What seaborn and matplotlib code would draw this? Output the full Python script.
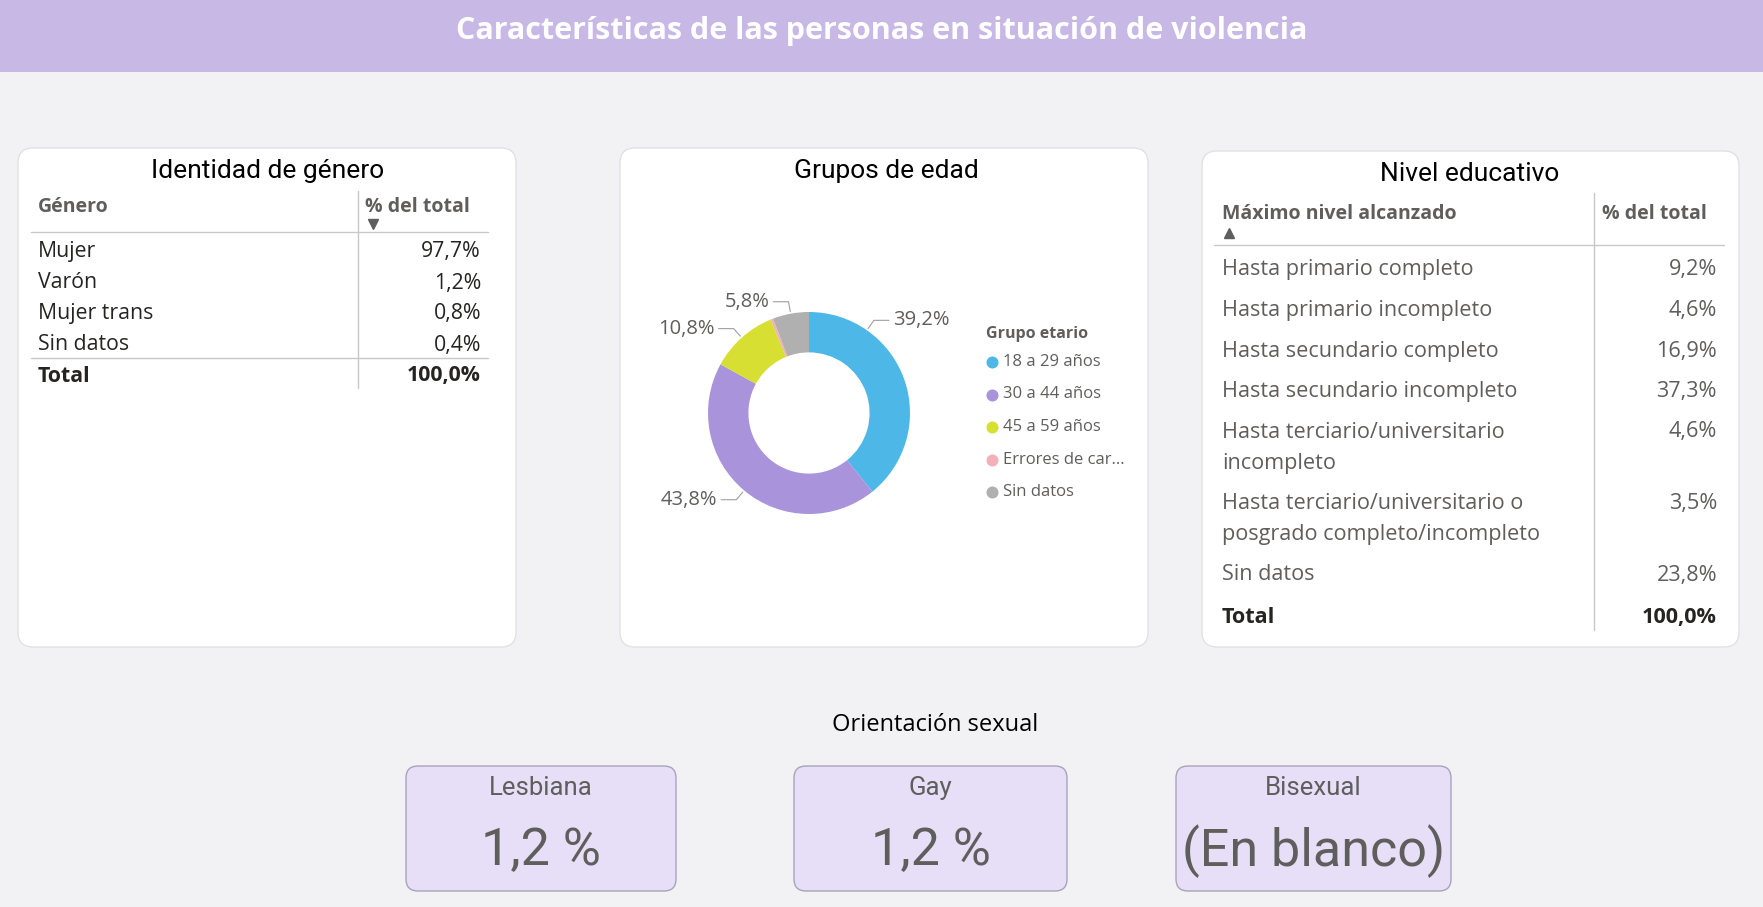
import numpy as np
import seaborn as sns
import matplotlib.pyplot as plt
from matplotlib.patches import FancyBboxPatch, Rectangle

# data
title = "Características de las personas en situación de violencia"

genero_labels = ["Mujer", "Varón", "Mujer trans", "Sin datos"]
genero_values = ["97,7%", "1,2%", "0,8%", "0,4%"]
genero_total = "100,0%"

edad_groups = ["18 a 29 años", "30 a 44 años", "45 a 59 años", "Errores de car...", "Sin datos"]
edad_values = [39.2, 43.8, 10.8, 0.4, 5.8]
edad_colors = ["#4DB8E8", "#A993DB", "#D6DF32", "#F2B1B9", "#B0B0B0"]

edu_labels = ["Hasta primario completo", "Hasta primario incompleto",
              "Hasta secundario completo", "Hasta secundario incompleto",
              "Hasta terciario/universitario\nincompleto",
              "Hasta terciario/universitario o\nposgrado completo/incompleto",
              "Sin datos"]
edu_values = ["9,2%", "4,6%", "16,9%", "37,3%", "4,6%", "3,5%", "23,8%"]
edu_total = "100,0%"

orient_labels = ["Lesbiana", "Gay", "Bisexual"]
orient_values = ["1,2 %", "1,2 %", "(En blanco)"]

W, H = 1763, 907
sns.set_theme(style="white")
plt.rcParams["font.family"] = ["Open Sans", "DejaVu Sans"]

fig = plt.figure(figsize=(W / 100, H / 100), dpi=100)
fig.patch.set_facecolor("#F2F2F4")
bg = fig.add_axes([0, 0, 1, 1])
bg.set_xlim(0, W)
bg.set_ylim(H, 0)
bg.axis("off")

TXT = "#252423"
GRY = "#605E5C"
LINE = "#C8C8C8"
DIN = "Roboto"

# header band
bg.add_patch(Rectangle((0, 0), W, 72, color="#C8B8E6", lw=0))
bg.text(W / 2, 31, title, color="white", fontsize=22, fontweight="bold",
        ha="center", va="center")


def card(x0, y0, x1, y1, fc="white", ec="#E1E1E1", r=15):
    bg.add_patch(FancyBboxPatch((x0, y0), x1 - x0, y1 - y0,
                                boxstyle=f"round,pad=0,rounding_size={r}",
                                fc=fc, ec=ec, lw=1))


card(18, 148, 516, 647)
card(620, 148, 1148, 647)
card(1202, 151, 1739, 647)

# table: identidad de genero
bg.text(268, 171, "Identidad de género", fontsize=19, family=DIN, color="black",
        ha="center", va="center")
bg.text(38, 207, "Género", fontsize=14, fontweight="bold", color=GRY, va="center")
bg.text(365, 207, "% del total", fontsize=14, fontweight="bold", color=GRY, va="center")
bg.plot([373], [224], marker="v", ms=7, color=GRY)
bg.plot([31, 488], [232, 232], color=LINE, lw=1)
bg.plot([358, 358], [191, 388], color=LINE, lw=1)
y = 252
for lab, val in zip(genero_labels, genero_values):
    bg.text(38, y, lab, fontsize=15.3, color=TXT, va="center")
    bg.text(481, y, val, fontsize=15.3, color=TXT, va="center", ha="right")
    y += 31
bg.plot([31, 488], [y - 18, y - 18], color=LINE, lw=1)
bg.text(38, y, "Total", fontsize=15.3, fontweight="bold", color=TXT, va="center")
bg.text(481, y, genero_total, fontsize=15.3, fontweight="bold", color=TXT,
        va="center", ha="right")

# table: nivel educativo
bg.text(1470, 174, "Nivel educativo", fontsize=19, family=DIN, color="black",
        ha="center", va="center")
bg.text(1222, 214, "Máximo nivel alcanzado", fontsize=14, fontweight="bold",
        color=GRY, va="center")
bg.text(1602, 214, "% del total", fontsize=14, fontweight="bold", color=GRY, va="center")
bg.plot([1229], [233], marker="^", ms=7, color=GRY)
bg.plot([1214, 1724], [245, 245], color=LINE, lw=1)
bg.plot([1594, 1594], [193, 630], color=LINE, lw=1)
y = 270
for lab, val in zip(edu_labels, edu_values):
    lines = lab.split("\n")
    for i, ln in enumerate(lines):
        bg.text(1222, y + 31 * i, ln, fontsize=15.6, color=GRY, va="center")
    bg.text(1717, y, val, fontsize=15.6, color=GRY, va="center", ha="right")
    y += 40.5 + 31 * (len(lines) - 1)
bg.text(1222, y + 2, "Total", fontsize=15.6, fontweight="bold", color=TXT, va="center")
bg.text(1717, y + 2, edu_total, fontsize=15.6, fontweight="bold", color=TXT,
        va="center", ha="right")

# donut: grupos de edad
bg.text(886, 171, "Grupos de edad", fontsize=19, family=DIN, color="black",
        ha="center", va="center")
cx, cy, rad = 809, 413, 101
ax = fig.add_axes([(cx - rad) / W, (H - cy - rad) / H, 2 * rad / W, 2 * rad / H])
wedges, _ = ax.pie(edad_values, colors=edad_colors, startangle=90, counterclock=False,
                   radius=1, wedgeprops=dict(width=0.4, lw=0))
ax.set_xlim(-1, 1)
ax.set_ylim(-1, 1)
ax.axis("off")

label_angle_override = {0: 55}
for i, (w, v) in enumerate(zip(wedges, edad_values)):
    if v < 1:
        continue
    a = np.deg2rad(label_angle_override.get(i, (w.theta1 + w.theta2) / 2))
    ca, sa = np.cos(a), np.sin(a)
    side = 1 if ca >= 0 else -1
    x0, y0 = 1.02 * ca, 1.02 * sa
    x1, y1 = 1.12 * ca, 1.12 * sa
    x2 = x1 + 0.15 * side
    ax.plot([x0, x1, x2], [y0, y1, y1], color="#A0A0A0", lw=0.8, clip_on=False)
    ax.text(x2 + 0.04 * side, y1, f"{v:.1f}%".replace(".", ","), fontsize=14.5,
            color=GRY, va="center", ha="left" if side > 0 else "right")

# legend
bg.text(986, 334, "Grupo etario", fontsize=11.5, fontweight="bold", color=GRY, va="center")
for i, (g, c) in enumerate(zip(edad_groups, edad_colors)):
    yy = 362 + 32.5 * i
    bg.scatter([992], [yy], s=75, color=c, lw=0)
    bg.text(1003, yy, g, fontsize=12, color=GRY, va="center")

# orientacion sexual
bg.text(935, 725, "Orientación sexual", fontsize=17, color="black", ha="center", va="center")
kpi_x = [(406, 676), (794, 1067), (1176, 1451)]
for (xa, xb), lab, val in zip(kpi_x, orient_labels, orient_values):
    card(xa, 766, xb, 891, fc="#E6DFF7", ec="#A8A4B8", r=12)
    bg.text((xa + xb) / 2, 788, lab, fontsize=18.5, family=DIN, color=GRY,
            ha="center", va="center")
    bg.text((xa + xb) / 2, 851, val, fontsize=37.5, family=DIN, color=GRY,
            ha="center", va="center")

plt.savefig("out.png", dpi=100, facecolor=fig.get_facecolor())
